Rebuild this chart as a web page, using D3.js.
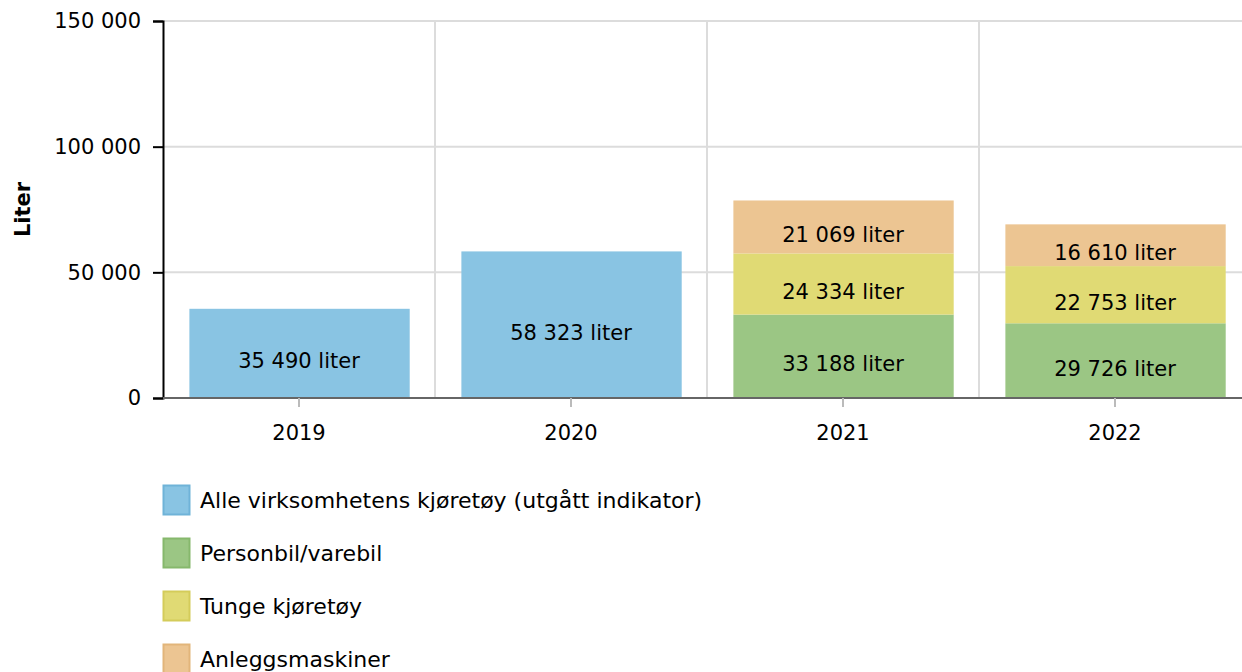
<!DOCTYPE html>
<html>
<head>
<meta charset="utf-8">
<script src="https://cdn.jsdelivr.net/npm/d3@7"></script>
<style>
  body { margin: 0; background: #fff; }
  svg { font-family: "DejaVu Sans", Verdana, sans-serif; }
</style>
</head>
<body>
<svg width="1242" height="672"></svg>
<script>
// chart data
var years = ["2019", "2020", "2021", "2022"];
var seriesNames = [
  "Alle virksomhetens kjøretøy (utgått indikator)",
  "Personbil/varebil",
  "Tunge kjøretøy",
  "Anleggsmaskiner"
];
var seriesColors = ["#89c4e3", "#9bc684", "#e0da74", "#ecc592"];
var seriesBorders = ["#6fb3d8", "#86b86c", "#d4cc5a", "#e2b57a"];
var alleValues = [35490, 58323, 0, 0];
var personbilValues = [0, 0, 33188, 29726];
var tungeValues = [0, 0, 24334, 22753];
var anleggValues = [0, 0, 21069, 16610];
var yTicks = [0, 50000, 100000, 150000];

var WIDTH = 1242, HEIGHT = 672;
var plotLeft = 163, plotRight = 1251, plotTop = 21, plotBottom = 398;

var svg = d3.select("svg");
var loc = d3.formatLocale({ decimal: ",", thousands: " ", grouping: [3], currency: ["", ""] });
var fmt = loc.format(",d");

var x = d3.scaleBand().domain(years).range([plotLeft, plotRight]).padding(0);
var y = d3.scaleLinear().domain([0, 150000]).range([plotBottom, plotTop]);

// gridlines
svg.append("g")
  .selectAll("line")
  .data(yTicks.slice(1))
  .enter()
  .append("line")
  .attr("x1", plotLeft).attr("x2", WIDTH)
  .attr("y1", (d) => y(d)).attr("y2", (d) => y(d))
  .attr("stroke", "#dcdcdc").attr("stroke-width", 2);

svg.append("g")
  .selectAll("line")
  .data(years.slice(1))
  .enter()
  .append("line")
  .attr("x1", (d) => x(d)).attr("x2", (d) => x(d))
  .attr("y1", plotTop).attr("y2", plotBottom)
  .attr("stroke", "#dcdcdc").attr("stroke-width", 2);

// stacked data
var table = years.map((yr, i) => ({
  year: yr,
  s0: alleValues[i], s1: personbilValues[i], s2: tungeValues[i], s3: anleggValues[i]
}));
var stack = d3.stack().keys(["s0", "s1", "s2", "s3"]);
var layers = stack(table);

var barPad = x.bandwidth() * 0.097;
var barW = x.bandwidth() * 0.81;

layers.forEach((layer, k) => {
  var g = svg.append("g");
  var segs = layer.filter((d) => d[1] - d[0] > 0);
  g.selectAll("rect")
    .data(segs)
    .enter()
    .append("rect")
    .attr("x", (d) => x(d.data.year) + barPad)
    .attr("width", barW)
    .attr("y", (d) => y(d[1]))
    .attr("height", (d) => y(d[0]) - y(d[1]))
    .attr("fill", seriesColors[k]);
  g.selectAll("text")
    .data(segs)
    .enter()
    .append("text")
    .attr("x", (d) => x(d.data.year) + x.bandwidth() / 2)
    .attr("y", (d) => (y(d[0]) + y(d[1])) / 2 + 15)
    .attr("text-anchor", "middle")
    .attr("font-size", 21)
    .attr("fill", "#000")
    .text((d) => fmt(d[1] - d[0]) + " liter");
});

// y axis
var yAxis = svg.append("g")
  .attr("transform", "translate(" + plotLeft + ",0)")
  .call(d3.axisLeft(y).tickValues(yTicks).tickSize(10).tickPadding(12).tickFormat(fmt));
yAxis.select(".domain").attr("stroke", "#000").attr("stroke-width", 2);
yAxis.selectAll(".tick line").attr("stroke", "#000").attr("stroke-width", 2);
yAxis.selectAll("text").attr("font-size", 21).attr("font-family", "DejaVu Sans").attr("fill", "#000");

// x axis
var xAxis = svg.append("g")
  .attr("transform", "translate(0," + plotBottom + ")")
  .call(d3.axisBottom(x).tickSize(9).tickSizeOuter(0).tickPadding(18));
xAxis.select(".domain").attr("stroke", "#666").attr("stroke-width", 2)
  .attr("d", "M" + plotLeft + ",0H" + WIDTH);
xAxis.selectAll(".tick line").attr("stroke", "#bbb").attr("stroke-width", 2);
xAxis.selectAll("text").attr("font-size", 21).attr("font-family", "DejaVu Sans").attr("fill", "#000");

// y title
svg.append("text")
  .attr("transform", "translate(30," + (plotTop + plotBottom) / 2 + ") rotate(-90)")
  .attr("text-anchor", "middle")
  .attr("font-size", 21)
  .attr("font-weight", "bold")
  .text("Liter");

// legend
var legend = svg.append("g")
  .selectAll("g")
  .data(seriesNames)
  .enter()
  .append("g")
  .attr("transform", (d, i) => "translate(163," + (485 + i * 53) + ")");
legend.append("rect")
  .attr("x", 0.5).attr("y", 0.5)
  .attr("width", 26).attr("height", 29)
  .attr("fill", (d, i) => seriesColors[i])
  .attr("stroke", (d, i) => seriesBorders[i])
  .attr("stroke-width", 2);
legend.append("text")
  .attr("x", 37).attr("y", 23)
  .attr("font-size", 22)
  .attr("fill", "#000")
  .text((d) => d);
</script>
</body>
</html>
